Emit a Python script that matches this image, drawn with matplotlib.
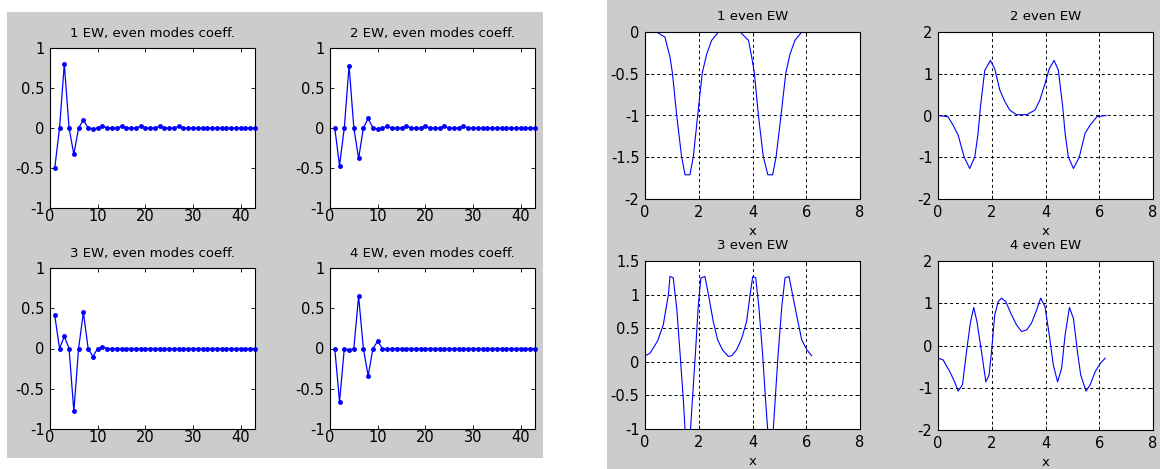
import matplotlib
matplotlib.use('Agg')
import matplotlib.pyplot as plt
from matplotlib.patches import Rectangle
from matplotlib.ticker import FuncFormatter

plt.rcParams['font.family'] = ['DejaVu Sans']

# ---- left figure: even modes coefficients (index 1..43) ----
n_modes = list(range(1, 44))
coeff_1 = [-0.5, 0, 0.8, 0, -0.33, 0, 0.1, 0, -0.01, 0, 0.02, 0, 0, 0, 0.02, 0, 0, 0, 0.02, 0,
           0, 0, 0.02, 0, 0, 0, 0.02, 0, 0, 0, 0, 0, 0, 0, 0, 0, 0, 0, 0, 0, 0, 0, 0]
coeff_2 = [0, -0.47, 0, 0.78, 0, -0.38, 0, 0.12, 0, -0.01, 0, 0.02, 0, 0, 0, 0.02, 0, 0, 0, 0.02,
           0, 0, 0, 0.02, 0, 0, 0, 0.02, 0, 0, 0, 0, 0, 0, 0, 0, 0, 0, 0, 0, 0, 0, 0]
coeff_3 = [0.41, 0, 0.15, 0, -0.78, 0, 0.45, 0, -0.1, 0, 0.02, 0, 0, 0, 0, 0, 0, 0, 0, 0,
           0, 0, 0, 0, 0, 0, 0, 0, 0, 0, 0, 0, 0, 0, 0, 0, 0, 0, 0, 0, 0, 0, 0]
coeff_4 = [0, -0.66, 0, -0.02, 0, 0.65, 0, -0.34, 0, 0.09, 0, -0.01, 0, 0, 0, 0, 0, 0, 0, 0,
           0, 0, 0, 0, 0, 0, 0, 0, 0, 0, 0, 0, 0, 0, 0, 0, 0, 0, 0, 0, 0, 0, 0]
coeff_titles = ['1 EW, even modes coeff.', '2 EW, even modes coeff.',
                '3 EW, even modes coeff.', '4 EW, even modes coeff.']

# ---- right figure: even eigenfunctions over x ----
x_ew1 = [0, 0.43, 0.74, 0.93, 1.02, 1.18, 1.36, 1.49, 1.67, 1.80, 1.96, 2.13, 2.30, 2.48, 2.73,
         3.54, 3.85, 3.97, 4.07, 4.22, 4.40, 4.57, 4.75, 4.88, 5.06, 5.24, 5.40, 5.58, 5.83, 6.28]
ew_1 = [0, 0, -0.06, -0.3, -0.49, -1.0, -1.49, -1.71, -1.71, -1.49, -1.0, -0.49, -0.26, -0.1, 0,
        0, -0.1, -0.3, -0.49, -1.0, -1.49, -1.71, -1.71, -1.49, -1.0, -0.49, -0.26, -0.1, 0, 0]

x_ew2 = [0, 0.37, 0.56, 0.75, 0.97, 1.18, 1.37, 1.49, 1.58, 1.74, 1.95, 2.11, 2.30, 2.49, 2.67,
         2.92, 3.30, 3.61, 3.79, 3.98, 4.14, 4.32, 4.48, 4.64, 4.73, 4.85, 5.04, 5.26, 5.47, 5.66,
         5.91, 6.25]
ew_2 = [0, -0.03, -0.23, -0.47, -0.99, -1.27, -0.99, -0.43, 0.21, 1.08, 1.32, 1.12, 0.61, 0.33, 0.13,
        0.02, 0.02, 0.13, 0.37, 0.76, 1.12, 1.32, 1.08, 0.21, -0.43, -0.99, -1.27, -0.99, -0.43, -0.23,
        -0.03, 0]

x_ew3 = [0.02, 0.19, 0.47, 0.68, 0.87, 0.93, 1.05, 1.18, 1.30, 1.43, 1.51, 1.67, 1.76, 1.88, 1.98,
         2.08, 2.23, 2.36, 2.54, 2.70, 2.88, 3.10, 3.23, 3.41, 3.60, 3.78, 3.91, 4.01, 4.12, 4.24,
         4.37, 4.49, 4.59, 4.75, 4.84, 4.96, 5.09, 5.21, 5.36, 5.49, 5.69, 5.83, 6.02, 6.20]
ew_3 = [0.09, 0.13, 0.31, 0.55, 1.0, 1.27, 1.25, 0.80, 0.15, -0.59, -1.15, -1.15, -0.59, 0.15, 0.82,
        1.25, 1.27, 1.0, 0.60, 0.33, 0.18, 0.08, 0.09, 0.18, 0.35, 0.60, 1.0, 1.27, 1.25, 0.80,
        0.15, -0.59, -1.15, -1.15, -0.59, 0.15, 0.82, 1.25, 1.27, 1.0, 0.60, 0.33, 0.18, 0.09]

x_ew4 = [0, 0.19, 0.44, 0.62, 0.75, 0.91, 1.06, 1.21, 1.33, 1.45, 1.62, 1.78, 1.90, 1.99, 2.11,
         2.24, 2.36, 2.52, 2.74, 2.92, 3.11, 3.30, 3.48, 3.67, 3.82, 3.98, 4.14, 4.29, 4.45, 4.60,
         4.73, 4.89, 5.04, 5.19, 5.31, 5.51, 5.66, 5.85, 6.03, 6.22]
ew_4 = [-0.30, -0.34, -0.62, -0.86, -1.08, -0.93, -0.15, 0.56, 0.90, 0.56, -0.15, -0.86, -0.70, -0.15, 0.72,
        1.04, 1.12, 1.04, 0.72, 0.49, 0.33, 0.37, 0.53, 0.84, 1.12, 0.92, 0.25, -0.46, -0.86, -0.54,
        0.25, 0.90, 0.64, -0.15, -0.70, -1.08, -0.93, -0.62, -0.43, -0.30]
ew_titles = ['1 even EW', '2 even EW', '3 even EW', '4 even EW']

W, H = 1160, 469
fig = plt.figure(figsize=(W / 100, H / 100), dpi=100)
fig.patch.set_facecolor('white')

# grey MATLAB figure windows
fig.patches.append(Rectangle((7 / W, 1 - 458 / H), 536 / W, 446 / H,
                             transform=fig.transFigure, facecolor='#cccccc',
                             edgecolor='none', zorder=-10))
fig.patches.append(Rectangle((607 / W, 0), 553 / W, 1,
                             transform=fig.transFigure, facecolor='#cccccc',
                             edgecolor='none', zorder=-10))


def px_axes(left, top, right, bottom):
    return fig.add_axes([left / W, 1 - bottom / H, (right - left) / W, (bottom - top) / H])


fmt = FuncFormatter(lambda v, pos: ('%g' % v).replace('\u2212', '-'))


def style(ax, xpad):
    ax.set_facecolor('white')
    ax.tick_params(direction='in', top=True, right=True, length=3, width=0.6,
                   labelsize=10.5, colors='black')
    ax.tick_params(axis='y', pad=4)
    ax.tick_params(axis='x', pad=xpad)
    for s in ax.spines.values():
        s.set_linewidth(0.8)
    ax.xaxis.set_major_formatter(fmt)
    ax.yaxis.set_major_formatter(fmt)


left_boxes = [(50, 48, 255, 208), (330, 48, 535, 208),
              (50, 268, 255, 429), (330, 268, 535, 429)]
coeffs = [coeff_1, coeff_2, coeff_3, coeff_4]
for box, c, t in zip(left_boxes, coeffs, coeff_titles):
    ax = px_axes(*box)
    ax.plot(n_modes, c, color='blue', lw=0.9, marker='.', markersize=5, clip_on=False)
    ax.set_xlim(0, 43)
    ax.set_ylim(-1, 1)
    ax.set_xticks([0, 10, 20, 30, 40])
    ax.set_yticks([-1, -0.5, 0, 0.5, 1])
    style(ax, 1)
    ax.set_title(t, fontsize=9.5, pad=8)

right_boxes = [(645, 32, 860, 199), (938, 32, 1153, 199),
               (645, 261, 860, 429), (938, 261, 1153, 430)]
curves = [(x_ew1, ew_1), (x_ew2, ew_2), (x_ew3, ew_3), (x_ew4, ew_4)]
ylims = [(-2, 0), (-2, 2), (-1, 1.5), (-2, 2)]
yticks = [[-2, -1.5, -1, -0.5, 0], [-2, -1, 0, 1, 2],
          [-1, -0.5, 0, 0.5, 1, 1.5], [-2, -1, 0, 1, 2]]
for box, (xs, ys), t, yl, yt in zip(right_boxes, curves, ew_titles, ylims, yticks):
    ax = px_axes(*box)
    ax.plot(xs, ys, color='blue', lw=0.8)
    ax.set_xlim(0, 8)
    ax.set_ylim(*yl)
    ax.set_xticks([0, 2, 4, 6, 8])
    ax.set_yticks(yt)
    ax.grid(True, color='black', linestyle=(0, (3, 3)), linewidth=0.7)
    style(ax, 4)
    ax.set_title(t, fontsize=9.5, pad=9)
    ax.set_xlabel('x', fontsize=9.5, labelpad=4)

fig.savefig('out.png', dpi=100)
